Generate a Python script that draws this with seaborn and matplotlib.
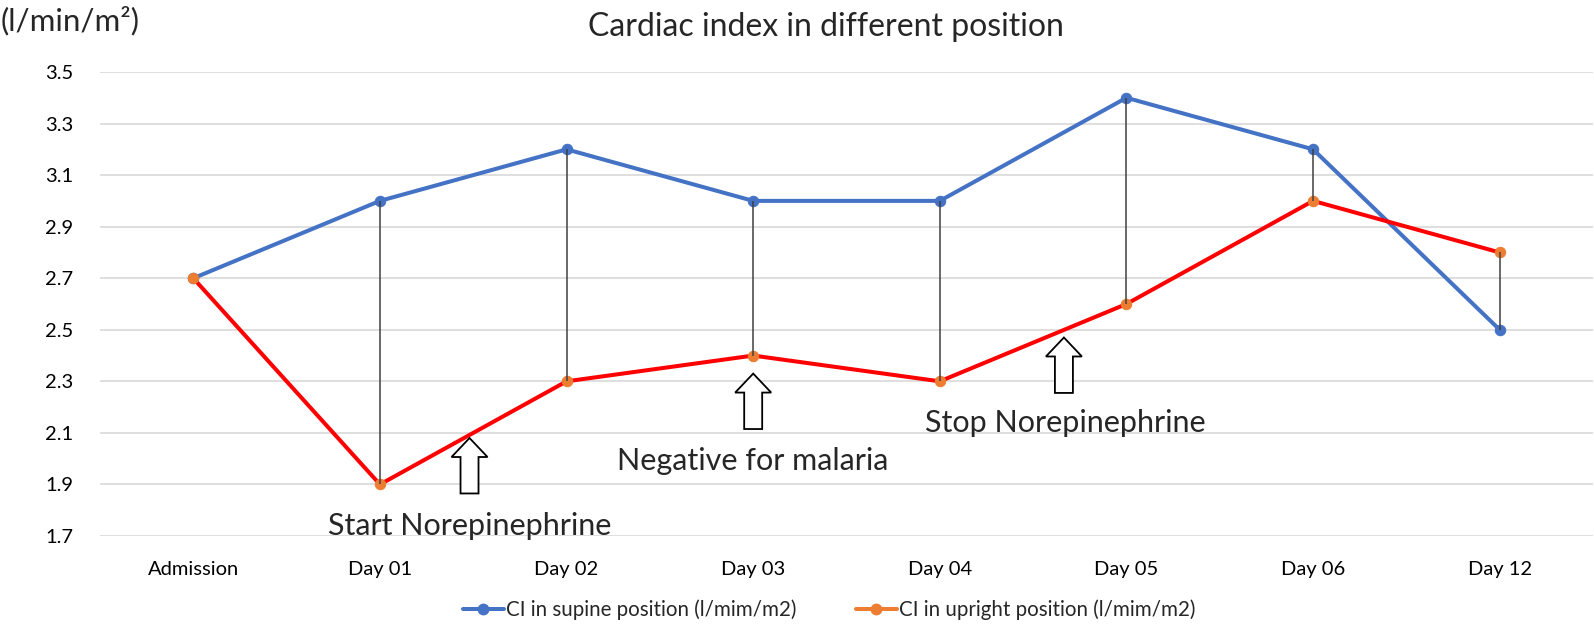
import matplotlib
matplotlib.use("Agg")
import matplotlib.pyplot as plt
import seaborn as sns
import pandas as pd
from matplotlib.lines import Line2D
from matplotlib.patches import FancyArrow

categories = ["Admission", "Day 01", "Day 02", "Day 03", "Day 04", "Day 05", "Day 06", "Day 12"]
supine = [2.7, 3.0, 3.2, 3.0, 3.0, 3.4, 3.2, 2.5]
upright = [2.7, 1.9, 2.3, 2.4, 2.3, 2.6, 3.0, 2.8]
yticks = [1.7, 1.9, 2.1, 2.3, 2.5, 2.7, 2.9, 3.1, 3.3, 3.5]

annotations = [
    ("Start Norepinephrine", 1.48, 2.08),
    ("Negative for malaria", 3.0, 2.33),
    ("Stop Norepinephrine", 4.665, 2.47),
]

sns.set_theme(style="white")
plt.rcParams['font.family'] = ['Lato', 'DejaVu Sans']

BLUE = "#4472C4"
RED = "#FF0000"
ORANGE = "#ED7D31"

fig = plt.figure(figsize=(15.94, 6.24), dpi=100)
ax = fig.add_axes([100/1594, 1-536/624, 1493/1594, (536-72)/624])

df = pd.DataFrame({"idx": range(len(categories)), "cat": categories,
                   "supine": supine, "upright": upright})

sns.lineplot(data=df, x="idx", y="supine", ax=ax, sort=False, color=BLUE, lw=2.9,
             marker="o", markersize=7.5, markeredgecolor=BLUE, markerfacecolor=BLUE, zorder=3)
sns.lineplot(data=df, x="idx", y="upright", ax=ax, sort=False, color=RED, lw=2.9,
             marker="o", markersize=7.5, markeredgecolor=ORANGE, markerfacecolor=ORANGE, zorder=3)

ax.vlines(df["idx"], df[["supine", "upright"]].min(axis=1), df[["supine", "upright"]].max(axis=1),
          color="#404040", lw=1.1, zorder=4)

ax.set_xlim(-0.5, len(categories) - 0.5)
ax.set_ylim(1.7, 3.5)
ax.set_yticks(yticks)
ax.set_yticklabels([f"{v:.1f}" for v in yticks])
ax.set_xticks(range(len(categories)))
ax.set_xticklabels(categories)
ax.tick_params(axis="both", length=0, labelsize=14.5, colors="#000000")
ax.tick_params(axis="y", pad=19)
ax.tick_params(axis="x", pad=18)
ax.grid(axis="y", color="#D9D9D9", lw=1.2, zorder=0)
ax.set_axisbelow(True)
ax.set_xlabel("")
ax.set_ylabel("")
for s in ax.spines.values():
    s.set_visible(False)

# hollow arrows
for text, x, ytip in annotations:
    length = 0.215
    arr = FancyArrow(x, ytip - length, 0, length, width=0.0964, head_width=0.193,
                     head_length=0.0736, length_includes_head=True,
                     facecolor="white", edgecolor="black", lw=1.3, zorder=5)
    ax.add_patch(arr)

fig.text(470/1594, 1-526/624, annotations[0][0], ha="center", va="center", fontsize=22)
fig.text(753/1594, 1-461/624, annotations[1][0], ha="center", va="center", fontsize=22)
fig.text(1065/1594, 1-423/624, annotations[2][0], ha="center", va="center", fontsize=22)

fig.text(826/1594, 1-27/624, "Cardiac index in different position", ha="center", va="center", fontsize=23)
fig.text(1/1594, 1-21/624, "(l/min/m²)", ha="left", va="center", fontsize=22.5)

handles = [
    Line2D([], [], color=BLUE, lw=2.9, marker="o", markersize=7.5, markerfacecolor=BLUE, markeredgecolor=BLUE),
    Line2D([], [], color=ORANGE, lw=2.9, marker="o", markersize=7.5, markerfacecolor=ORANGE, markeredgecolor=ORANGE),
]
fig.legend(handles, ["CI in supine position (l/mim/m2)", "CI in upright position (l/mim/m2)"],
           loc="center", bbox_to_anchor=(829/1594, 1-610/624), ncol=2, frameon=False,
           fontsize=14.8, handlelength=2.0, handletextpad=0.1, columnspacing=2.9)

fig.savefig("out.png", dpi=100)
